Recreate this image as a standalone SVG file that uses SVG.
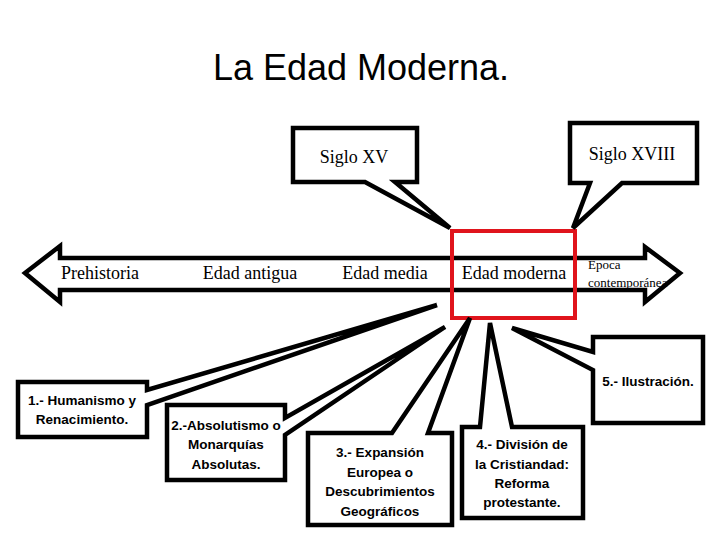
<svg xmlns="http://www.w3.org/2000/svg" width="720" height="540" viewBox="0 0 720 540">
<style>
.sh{fill:#fff;stroke:#000;stroke-width:4.5;stroke-linejoin:miter}
.ser{font-family:"Liberation Serif","Times New Roman",serif;fill:#000}
.bx{font-family:"Liberation Sans",Arial,sans-serif;font-weight:bold;font-size:13.5px;fill:#000;text-anchor:middle}
</style>
<rect width="720" height="540" fill="#fff"/>
<text x="361" y="80" font-family="Liberation Sans, Arial, sans-serif" font-size="36" text-anchor="middle">La Edad Moderna.</text>

<g id="timeline">
<path class="sh" d="M25,273 L60,246 V258 H645 V247 L680,273 L645,302 V290 H60 V302 Z"/>
<text class="ser" x="100" y="279" font-size="18" text-anchor="middle">Prehistoria</text>
<text class="ser" x="250" y="279" font-size="18" text-anchor="middle">Edad antigua</text>
<text class="ser" x="385" y="279" font-size="18" text-anchor="middle">Edad media</text>
<text class="ser" x="514" y="279" font-size="18" text-anchor="middle">Edad moderna</text>
<text class="ser" x="588" y="269" font-size="13">Epoca</text>
<text class="ser" x="588" y="287" font-size="13">contemporánea</text>
</g>

<g id="red-box">
<rect x="452" y="231" width="123" height="87" fill="none" stroke="#e0141c" stroke-width="4"/>
</g>

<g id="connectors">
<g id="siglo-xv">
<path class="sh" d="M293,128 H417 V182 H395 L450,228 L365,182 H293 Z"/>
<text class="ser" x="354" y="163" font-size="18" text-anchor="middle">Siglo XV</text>
</g>
<g id="siglo-xviii">
<path class="sh" d="M570,123 H697 V183 H622 L573,228 L590,183 H570 Z"/>
<text class="ser" x="632" y="160" font-size="18" text-anchor="middle">Siglo XVIII</text>
</g>
</g>

<g id="box1">
<path class="sh" d="M18,382 H147 V390 L437,305 L147,405 V437 H18 Z"/>
<text class="bx" x="82" y="405">1.- Humanismo y</text>
<text class="bx" x="82" y="424">Renacimiento.</text>
</g>
<g id="box2">
<path class="sh" d="M167,405 H285 V418 L445,327 L285,435 V480 H167 Z"/>
<text class="bx" x="226" y="430">2.-Absolutismo o</text>
<text class="bx" x="226" y="449">Monarquías</text>
<text class="bx" x="226" y="469">Absolutas.</text>
</g>
<g id="box3">
<path class="sh" d="M308,433 H392 L470,318 L428,433 H452 V525 H308 Z"/>
<text class="bx" x="380" y="457">3.- Expansión</text>
<text class="bx" x="380" y="477">Europea o</text>
<text class="bx" x="380" y="496">Descubrimientos</text>
<text class="bx" x="380" y="516">Geográficos</text>
</g>
<g id="box4">
<path class="sh" d="M462,427 H480 L490,323 L512,427 H583 V518 H462 Z"/>
<text class="bx" x="522" y="449">4.- División de</text>
<text class="bx" x="522" y="469">la Cristiandad:</text>
<text class="bx" x="522" y="488">Reforma</text>
<text class="bx" x="522" y="507">protestante.</text>
</g>
<g id="box5">
<path class="sh" d="M593,337 H703 V423 H593 V370 L512,328 L593,352 Z"/>
<text class="bx" x="648" y="386">5.- Ilustración.</text>
</g>
</svg>
